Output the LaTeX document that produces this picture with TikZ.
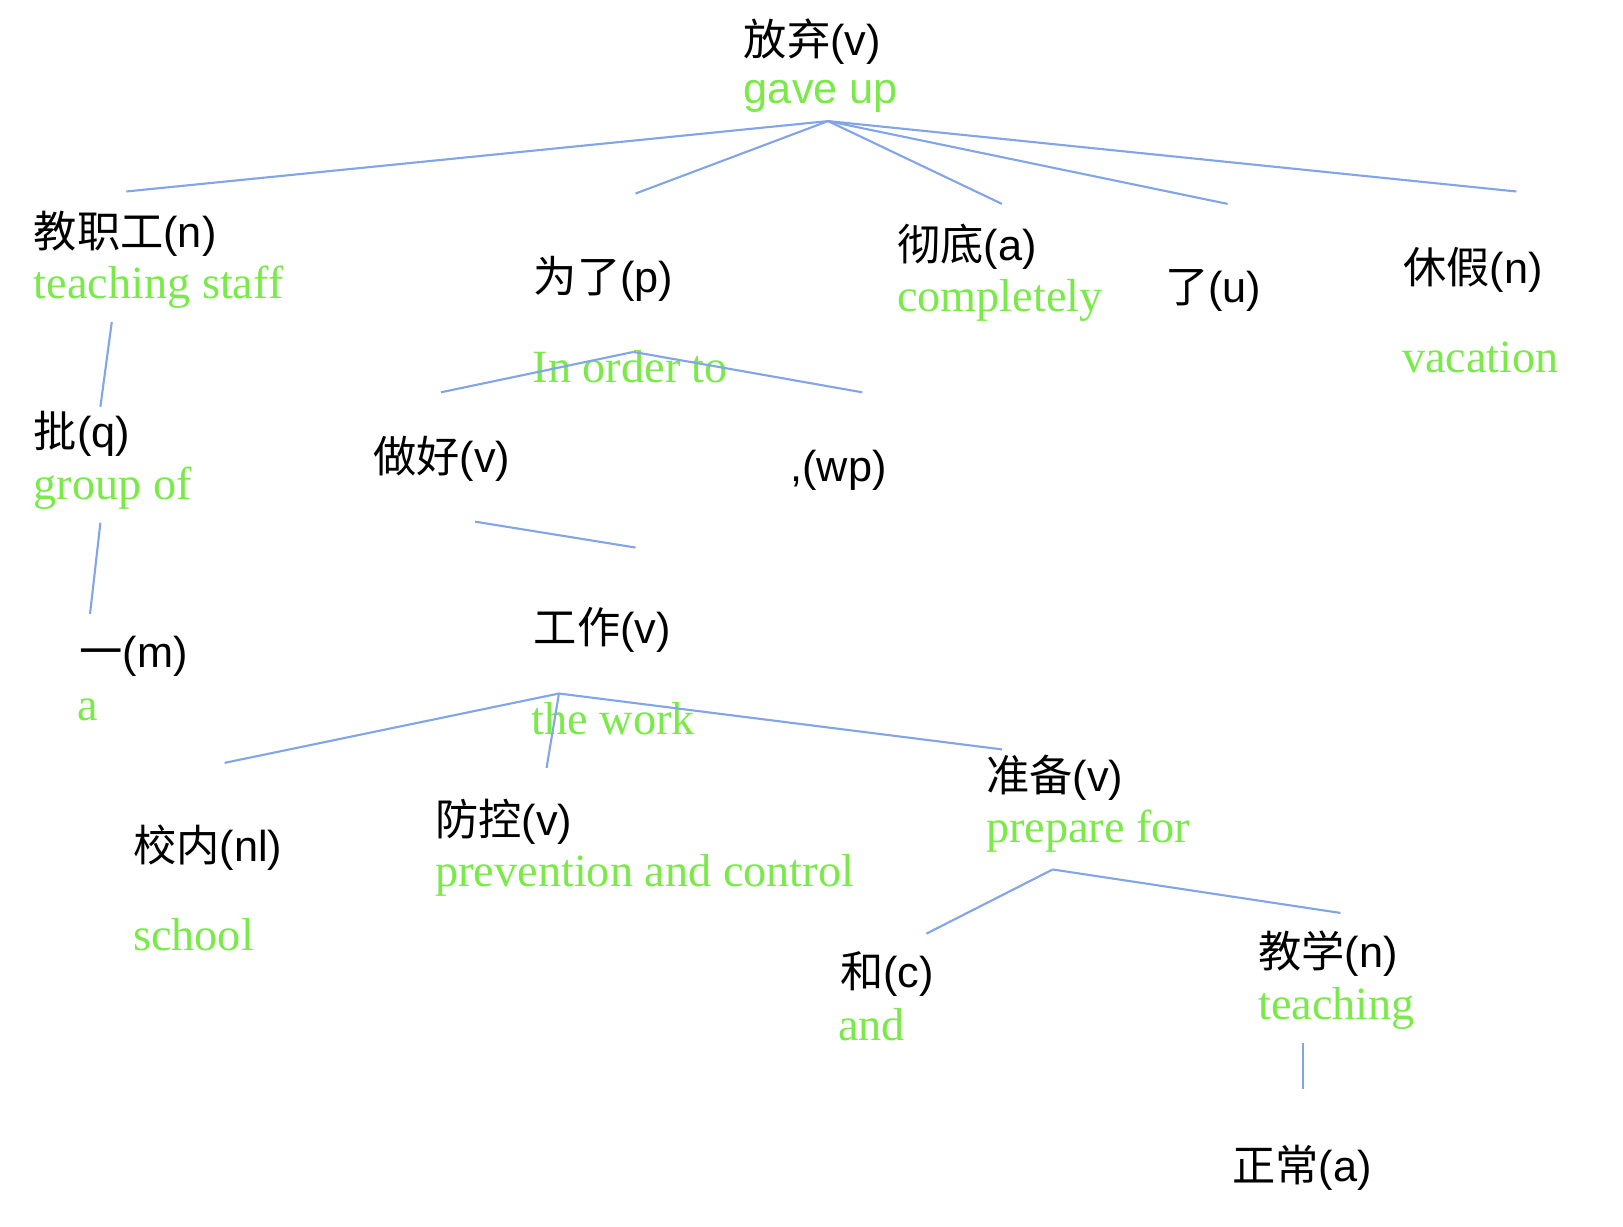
\documentclass[tikz,border=0pt]{standalone}
\usepackage{fontspec}
\setmainfont{Liberation Sans}
\newfontfamily\cjk{Noto Sans CJK SC}
\newfontfamily\glossfont{Liberation Serif}
\definecolor{glossgreen}{RGB}{122,234,72}
\definecolor{linkblue}{RGB}{130,165,232}
\newcommand{\zw}[2]{{\cjk #1}(#2)}
\tikzset{
    word/.style = {
        anchor=west,
        inner sep=0pt,
        font=\fontsize{12.3}{14}\selectfont,
        },
    gloss/.style = {
        anchor=west,
        inner sep=0pt,
        text=glossgreen,
        font=\glossfont\fontsize{13.15}{15}\selectfont,
        },
    gloss sans/.style = {
        gloss,
        font=\fontsize{12.3}{14}\selectfont,
        },
    link/.style = {
        draw=linkblue,
        line width=0.6pt,
        },
}

\begin{document}
\begin{tikzpicture}[x=0.01035cm, y=-0.01035cm]
            \useasboundingbox (0,0) rectangle (1568,1185);

            \node[word] (fangqi) at (718,40) {\zw{放弃}{v}};
            \node[gloss sans] (fangqi-gl) at (718,93) {gave up};
            \node[word] (jiaozhigong) at (32,226) {\zw{教职工}{n}};
            \node[gloss] (jiaozhigong-gl) at (32,277) {teaching staff};
            \node[word] (weile) at (515,269) {\zw{为了}{p}};
            \node[gloss] (weile-gl) at (514,354) {In order to};
            \node[word] (chedi) at (866,238) {\zw{彻底}{a}};
            \node[gloss] (chedi-gl) at (866,290) {completely};
            \node[word] (le) at (1125,281) {\zw{了}{u}};
            \node[word] (xiujia) at (1355,261) {\zw{休假}{n}};
            \node[gloss] (xiujia-gl) at (1354,345) {vacation};
            \node[word] (pi) at (32,419) {\zw{批}{q}};
            \node[gloss] (pi-gl) at (32,472) {group of};
            \node[word] (zuohao) at (360,443) {\zw{做好}{v}};
            \node[word] (douhao) at (763,454) {,(wp)};
            \node[word] (yi) at (76,634) {\zw{一}{m}};
            \node[gloss] (yi-gl) at (74,686) {a};
            \node[word] (gongzuo) at (515,609) {\zw{工作}{v}};
            \node[gloss] (gongzuo-gl) at (513,694) {the work};
            \node[word] (xiaonei) at (128,819) {\zw{校内}{nl}};
            \node[gloss] (xiaonei-gl) at (128,903) {school};
            \node[word] (fangkong) at (420,794) {\zw{防控}{v}};
            \node[gloss] (fangkong-gl) at (420,846) {prevention and control};
            \node[word] (zhunbei) at (952,751) {\zw{准备}{v}};
            \node[gloss] (zhunbei-gl) at (952,803) {prepare for};
            \node[word] (he) at (811,941) {\zw{和}{c}};
            \node[gloss] (he-gl) at (809,990) {and};
            \node[word] (jiaoxue) at (1215,921) {\zw{教学}{n}};
            \node[gloss] (jiaoxue-gl) at (1215,974) {teaching};
            \node[word] (zhengchang) at (1190,1128) {\zw{正常}{a}};

            % ends of the links
            \coordinate (fangqi-down) at (800,117);
            \coordinate (jiaozhigong-up) at (122,185);
            \coordinate (weile-up) at (614,187);
            \coordinate (chedi-up) at (968,197);
            \coordinate (le-up) at (1186,197);
            \coordinate (xiujia-up) at (1465,185);
            \coordinate (jiaozhigong-down) at (108,311);
            \coordinate (pi-up) at (97,393);
            \coordinate (pi-down) at (97,505);
            \coordinate (yi-up) at (87,593);
            \coordinate (weile-down) at (612,340);
            \coordinate (zuohao-up) at (426,379);
            \coordinate (douhao-up) at (833,379);
            \coordinate (zuohao-down) at (459,504);
            \coordinate (gongzuo-up) at (614,529);
            \coordinate (gongzuo-down) at (540,670);
            \coordinate (xiaonei-up) at (217,737);
            \coordinate (fangkong-up) at (528,742);
            \coordinate (zhunbei-up) at (968,724);
            \coordinate (zhunbei-down) at (1017,840);
            \coordinate (he-up) at (895,902);
            \coordinate (jiaoxue-up) at (1295,882);
            \coordinate (jiaoxue-down) at (1259,1008);
            \coordinate (zhengchang-up) at (1259,1052);

            \path (fangqi-down) edge[link] (jiaozhigong-up);
            \path (fangqi-down) edge[link] (weile-up);
            \path (fangqi-down) edge[link] (chedi-up);
            \path (fangqi-down) edge[link] (le-up);
            \path (fangqi-down) edge[link] (xiujia-up);
            \path (jiaozhigong-down) edge[link] (pi-up);
            \path (pi-down) edge[link] (yi-up);
            \path (weile-down) edge[link] (zuohao-up);
            \path (weile-down) edge[link] (douhao-up);
            \path (zuohao-down) edge[link] (gongzuo-up);
            \path (gongzuo-down) edge[link] (xiaonei-up);
            \path (gongzuo-down) edge[link] (fangkong-up);
            \path (gongzuo-down) edge[link] (zhunbei-up);
            \path (zhunbei-down) edge[link] (he-up);
            \path (zhunbei-down) edge[link] (jiaoxue-up);
            \path (jiaoxue-down) edge[link] (zhengchang-up);
\end{tikzpicture}
\end{document}
